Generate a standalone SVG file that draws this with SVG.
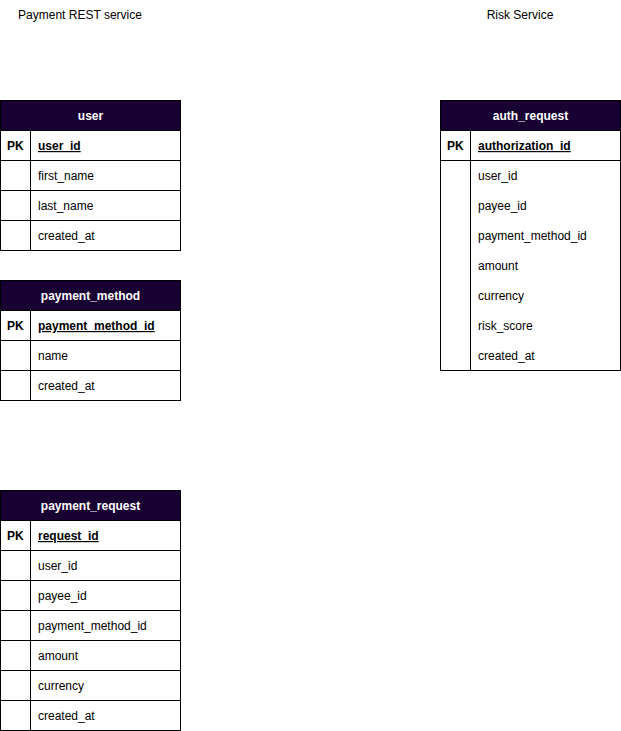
<svg xmlns="http://www.w3.org/2000/svg" width="621" height="731" viewBox="0 0 621 731">
<style>
text{font-family:"Liberation Sans",Arial,sans-serif;font-size:12px;fill:#000}
.hd{fill:#190033;stroke:#000;stroke-width:1}
.ht{fill:#fff;font-weight:bold;text-anchor:middle}
.cell{fill:#fff;stroke:#000;stroke-width:1}
.ln{stroke:#000;stroke-width:1;fill:none}
.pk{font-weight:bold}
.pkf{font-weight:bold;text-decoration:underline}
.title{text-anchor:middle}
</style>
<rect width="621" height="731" fill="#fff"/>
<text class="title" x="80" y="19">Payment REST service</text>
<text class="title" x="520" y="19">Risk Service</text>

<g id="user">
<rect class="hd" x="0.5" y="100.5" width="180" height="30"/>
<text class="ht" x="90.5" y="120">user</text>
<rect class="cell" x="0.5" y="130.5" width="180" height="30"/>
<rect class="cell" x="0.5" y="160.5" width="180" height="30"/>
<rect class="cell" x="0.5" y="190.5" width="180" height="30"/>
<rect class="cell" x="0.5" y="220.5" width="180" height="30"/>
<line class="ln" x1="30.5" y1="130.5" x2="30.5" y2="250.5"/>
<text class="pk" x="7" y="150">PK</text>
<text class="pkf" x="38" y="150">user_id</text>
<text x="38" y="180">first_name</text>
<text x="38" y="210">last_name</text>
<text x="38" y="240">created_at</text>
</g>

<g id="payment_method">
<rect class="hd" x="0.5" y="280.5" width="180" height="30"/>
<text class="ht" x="90.5" y="300">payment_method</text>
<rect class="cell" x="0.5" y="310.5" width="180" height="30"/>
<rect class="cell" x="0.5" y="340.5" width="180" height="30"/>
<rect class="cell" x="0.5" y="370.5" width="180" height="30"/>
<line class="ln" x1="30.5" y1="310.5" x2="30.5" y2="400.5"/>
<text class="pk" x="7" y="330">PK</text>
<text class="pkf" x="38" y="330">payment_method_id</text>
<text x="38" y="360">name</text>
<text x="38" y="390">created_at</text>
</g>

<g id="payment_request">
<rect class="hd" x="0.5" y="490.5" width="180" height="30"/>
<text class="ht" x="90.5" y="510">payment_request</text>
<rect class="cell" x="0.5" y="520.5" width="180" height="30"/>
<rect class="cell" x="0.5" y="550.5" width="180" height="30"/>
<rect class="cell" x="0.5" y="580.5" width="180" height="30"/>
<rect class="cell" x="0.5" y="610.5" width="180" height="30"/>
<rect class="cell" x="0.5" y="640.5" width="180" height="30"/>
<rect class="cell" x="0.5" y="670.5" width="180" height="30"/>
<rect class="cell" x="0.5" y="700.5" width="180" height="30"/>
<line class="ln" x1="30.5" y1="520.5" x2="30.5" y2="730.5"/>
<text class="pk" x="7" y="540">PK</text>
<text class="pkf" x="38" y="540">request_id</text>
<text x="38" y="570">user_id</text>
<text x="38" y="600">payee_id</text>
<text x="38" y="630">payment_method_id</text>
<text x="38" y="660">amount</text>
<text x="38" y="690">currency</text>
<text x="38" y="720">created_at</text>
</g>

<g id="auth_request">
<rect class="hd" x="440.5" y="100.5" width="180" height="30"/>
<text class="ht" x="530.5" y="120">auth_request</text>
<rect class="cell" x="440.5" y="130.5" width="180" height="30"/>
<rect class="cell" x="440.5" y="160.5" width="180" height="210"/>
<line class="ln" x1="470.5" y1="130.5" x2="470.5" y2="370.5"/>
<text class="pk" x="447" y="150">PK</text>
<text class="pkf" x="478" y="150">authorization_id</text>
<text x="478" y="180">user_id</text>
<text x="478" y="210">payee_id</text>
<text x="478" y="240">payment_method_id</text>
<text x="478" y="270">amount</text>
<text x="478" y="300">currency</text>
<text x="478" y="330">risk_score</text>
<text x="478" y="360">created_at</text>
</g>

<g id="connectors"></g>
</svg>
